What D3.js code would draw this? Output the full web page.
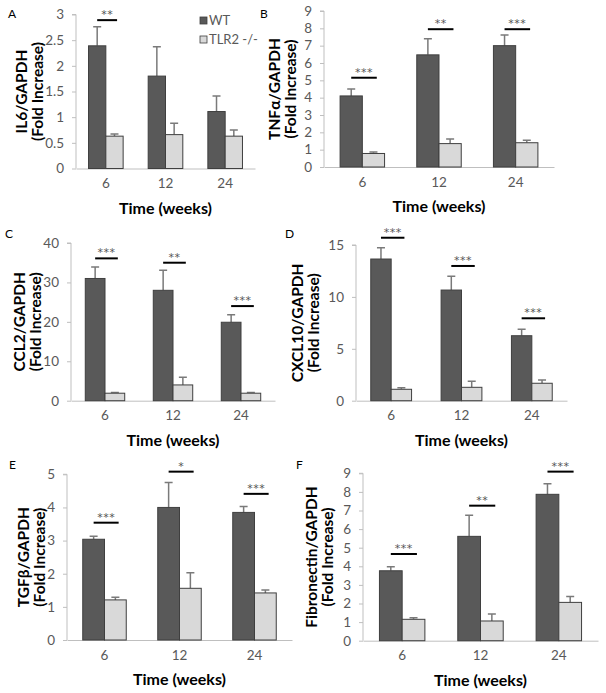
<!DOCTYPE html>
<html><head><meta charset="utf-8">
<script src="https://cdn.jsdelivr.net/npm/d3@7"></script>
<style>
html,body{margin:0;padding:0;background:#fff;}
svg{display:block;font-family:Lato,"Open Sans",sans-serif;}
</style></head>
<body><svg id="c" width="606" height="693"></svg>
<script>
// ---------- DATA ----------
const weeks = ["6", "12", "24"];
const series = ["WT", "TLR2 -/-"];

const il6WT = [2.39, 1.80, 1.11], il6WTErr = [0.37, 0.57, 0.30];
const il6KO = [0.63, 0.66, 0.63], il6KOErr = [0.04, 0.22, 0.12];
const il6Ticks = [0, 0.5, 1, 1.5, 2, 2.5, 3];
const il6Sig = ["**", "", ""], il6SigLevel = [2.89, 0, 0];

const tnfWT = [4.1, 6.47, 7.0], tnfWTErr = [0.40, 0.93, 0.62];
const tnfKO = [0.78, 1.35, 1.40], tnfKOErr = [0.08, 0.27, 0.15];
const tnfTicks = [0, 1, 2, 3, 4, 5, 6, 7, 8, 9];
const tnfSig = ["***", "**", "***"], tnfSigLevel = [5.15, 7.95, 7.95];

const ccl2WT = [31.0, 28.0, 19.9], ccl2WTErr = [2.9, 5.1, 1.9];
const ccl2KO = [1.9, 4.0, 1.9], ccl2KOErr = [0.15, 1.95, 0.15];
const ccl2Ticks = [0, 10, 20, 30, 40];
const ccl2Sig = ["***", "**", "***"], ccl2SigLevel = [36.1, 35.0, 24.0];

const cxclWT = [13.65, 10.66, 6.26], cxclWTErr = [1.09, 1.34, 0.62];
const cxclKO = [1.10, 1.29, 1.68], cxclKOErr = [0.15, 0.58, 0.31];
const cxclTicks = [0, 5, 10, 15];
const cxclSig = ["***", "***", "***"], cxclSigLevel = [15.7, 12.98, 7.94];

const tgfWT = [3.04, 4.0, 3.85], tgfWTErr = [0.09, 0.75, 0.18];
const tgfKO = [1.21, 1.56, 1.42], tgfKOErr = [0.08, 0.47, 0.09];
const tgfTicks = [0, 1, 2, 3, 4, 5];
const tgfSig = ["***", "*", "***"], tgfSigLevel = [3.54, 5.08, 4.41];

const fnWT = [3.76, 5.61, 7.87], fnWTErr = [0.22, 1.13, 0.57];
const fnKO = [1.15, 1.06, 2.06], fnKOErr = [0.09, 0.38, 0.31];
const fnTicks = [0, 1, 2, 3, 4, 5, 6, 7, 8, 9];
const fnSig = ["***", "**", "***"], fnSigLevel = [4.66, 7.26, 9.09];

// ---------- LAYOUT ----------
const panels = [
  {letter:"A", lpos:[8,18], title:"IL6/GAPDH", wt:il6WT, wtE:il6WTErr, ko:il6KO, koE:il6KOErr, ticks:il6Ticks, sig:il6Sig, sigL:il6SigLevel,
   x0:76, x1:255, yTop:14.5, yBot:168.5, tx:[21,37], legend:true},
  {letter:"B", lpos:[260,18], title:"TNF\u03b1/GAPDH", wt:tnfWT, wtE:tnfWTErr, ko:tnfKO, koE:tnfKOErr, ticks:tnfTicks, sig:tnfSig, sigL:tnfSigLevel,
   x0:324, x1:554, yTop:11, yBot:167, tx:[274,290]},
  {letter:"C", lpos:[5,238], title:"CCL2/GAPDH", wt:ccl2WT, wtE:ccl2WTErr, ko:ccl2KO, koE:ccl2KOErr, ticks:ccl2Ticks, sig:ccl2Sig, sigL:ccl2SigLevel,
   x0:71, x1:275, yTop:243, yBot:400.7, tx:[19,35]},
  {letter:"D", lpos:[285,238], title:"CXCL10/GAPDH", wt:cxclWT, wtE:cxclWTErr, ko:cxclKO, koE:cxclKOErr, ticks:cxclTicks, sig:cxclSig, sigL:cxclSigLevel,
   x0:356, x1:567, yTop:245, yBot:400.7, tx:[297,313]},
  {letter:"E", lpos:[9,469], title:"TGF\u03b2/GAPDH", wt:tgfWT, wtE:tgfWTErr, ko:tgfKO, koE:tgfKOErr, ticks:tgfTicks, sig:tgfSig, sigL:tgfSigLevel,
   x0:67, x1:292, yTop:474.3, yBot:640, tx:[23,39]},
  {letter:"F", lpos:[296,469], title:"Fibronectin/GAPDH", wt:fnWT, wtE:fnWTErr, ko:fnKO, koE:fnKOErr, ticks:fnTicks, sig:fnSig, sigL:fnSigLevel,
   x0:363, x1:598, yTop:473.3, yBot:640.7, tx:[311,327]}
];

const colors = {"WT":"#595959", "TLR2 -/-":"#d9d9d9"};
const barStroke = "#3f3f3f";
const errColor = "#7a7a7a";
const axisColor = "#bfbfbf";
const labelColor = "#595959";

const svg = d3.select("#c");

panels.forEach(p => {
  const g = svg.append("g");
  const maxV = p.ticks[p.ticks.length - 1];
  const y = d3.scaleLinear().domain([0, maxV]).range([p.yBot, p.yTop]);
  const x = d3.scaleBand().domain(weeks).range([p.x0, p.x1]);
  const xi = d3.scaleBand().domain(series).range([0, x.bandwidth()]).paddingOuter(0.724);

  // y axis
  const ya = g.append("g").attr("transform", `translate(${p.x0},0)`)
    .call(d3.axisLeft(y).tickValues(p.ticks).tickSize(4).tickPadding(8).tickFormat(d3.format("")));
  ya.select(".domain").attr("stroke", axisColor).attr("d", `M-4,${p.yTop}H0V${p.yBot}`);
  ya.selectAll(".tick line").attr("stroke", axisColor);
  ya.selectAll(".tick text").attr("fill", labelColor).style("font-size", "13.5px").style("font-family", "Lato");

  // x axis
  const xa = g.append("g").attr("transform", `translate(0,${p.yBot})`)
    .call(d3.axisBottom(x).tickSize(0).tickPadding(10));
  xa.select(".domain").attr("stroke", axisColor);
  xa.selectAll(".tick text").attr("fill", labelColor).style("font-size", "13.5px").style("font-family", "Lato");

  // bars
  const rows = weeks.map((w, i) => ({w, i, vals: [
    {s:"WT", v:p.wt[i], e:p.wtE[i]}, {s:"TLR2 -/-", v:p.ko[i], e:p.koE[i]}]}));
  const grp = g.selectAll(".grp").data(rows).join("g").attr("transform", d => `translate(${x(d.w)},0)`);
  grp.selectAll(".err").data(d => d.vals).join("path")
    .attr("d", d => {
      const cx = xi(d.s) + xi.bandwidth() / 2, t = y(d.v + d.e);
      return `M${cx},${y(d.v)}V${t}M${cx - 4},${t}H${cx + 4}`;
    })
    .attr("stroke", errColor).attr("stroke-width", 1.5).attr("fill", "none");
  grp.selectAll("rect").data(d => d.vals).join("rect")
    .attr("x", d => xi(d.s)).attr("width", xi.bandwidth())
    .attr("y", d => y(d.v)).attr("height", d => p.yBot - y(d.v))
    .attr("fill", d => colors[d.s]).attr("stroke", barStroke).attr("stroke-width", 1);

  // significance
  rows.forEach((r, i) => {
    if (!p.sig[i]) return;
    const xa0 = x(r.w) + xi("WT") + xi.bandwidth() * 0.5;
    const xa1 = x(r.w) + xi("TLR2 -/-") + xi.bandwidth() * 0.65;
    const ly = y(p.sigL[i]);
    g.append("line").attr("x1", xa0).attr("x2", xa1).attr("y1", ly).attr("y2", ly)
      .attr("stroke", "#000").attr("stroke-width", 2);
    g.append("text").attr("transform", `translate(${(xa0 + xa1) / 2},${ly - 2}) rotate(0.01)`)
      .attr("text-anchor", "middle").attr("fill", "#555")
      .style("font-size", "11px").style("font-family", "DejaVu Sans").style("letter-spacing", "0.5px")
      .text(p.sig[i]);
  });

  // x title
  g.append("text").attr("x", (p.x0 + p.x1) / 2).attr("y", p.yBot + 45)
    .attr("text-anchor", "middle").attr("fill", "#000")
    .style("font-size", "16px").style("font-weight", "bold").text("Time (weeks)");

  // y title
  const cy = (p.yTop + p.yBot) / 2;
  [p.title, "(Fold Increase)"].forEach((t, k) => {
    g.append("text").attr("transform", `translate(${p.tx[k]},${cy}) rotate(-90)`)
      .attr("text-anchor", "middle").attr("dominant-baseline", "central")
      .attr("fill", "#000").style("font-size", "15.5px").style("font-weight", "bold").text(t);
  });

  // panel letter
  g.append("text").attr("x", p.lpos[0]).attr("y", p.lpos[1]).attr("fill", "#000")
    .style("font-size", "12px").text(p.letter);

  // legend
  if (p.legend) {
    const lg = g.append("g");
    series.forEach((s, k) => {
      lg.append("rect").attr("x", 200).attr("y", 17 + k * 19).attr("width", 7).attr("height", 7)
        .attr("fill", colors[s]).attr("stroke", barStroke).attr("stroke-width", 0.8);
      lg.append("text").attr("x", 209).attr("y", 24.5 + k * 19).attr("fill", labelColor)
        .style("font-size", "13px").text(s);
    });
  }
});
</script></body></html>
